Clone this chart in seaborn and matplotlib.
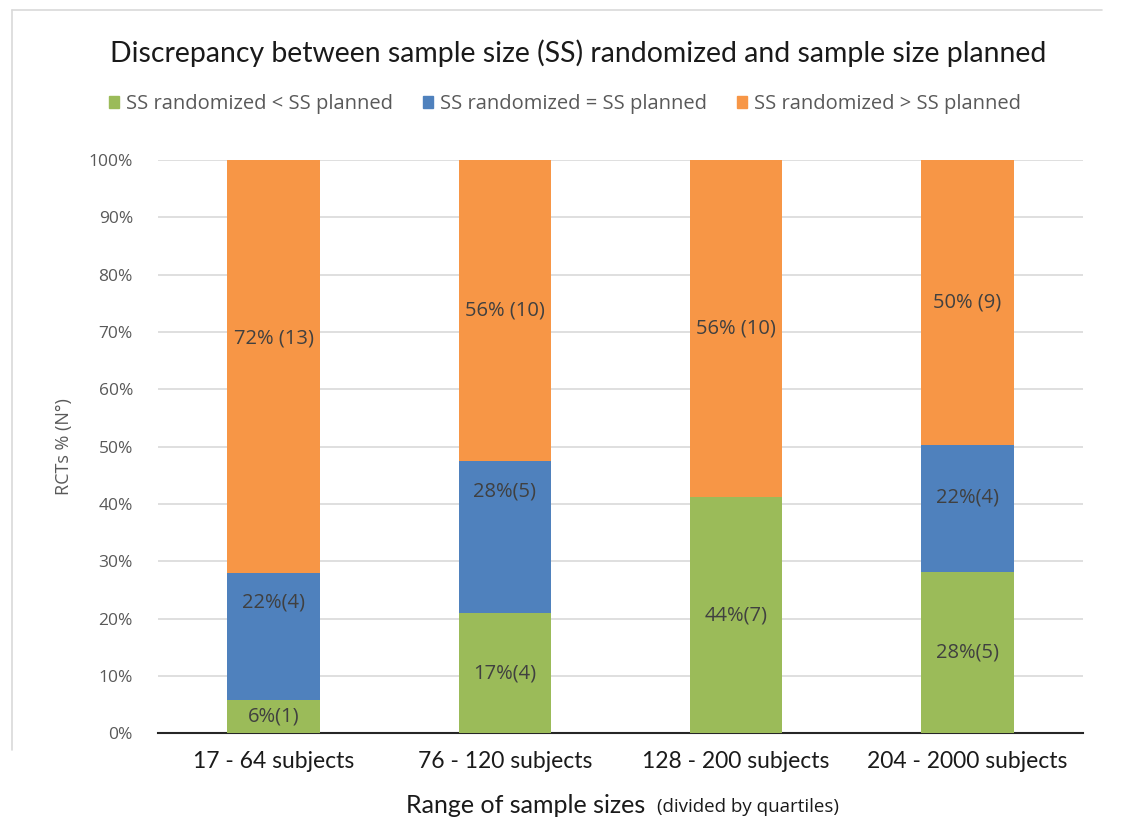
import pandas as pd
import matplotlib.pyplot as plt
import seaborn as sns
import numpy as np

# Données
categories = ['17 - 64 subjects', '76 - 120 subjects', '128 - 200 subjects', '204 - 2000 subjects']
series_names = ['SS randomized < SS planned', 'SS randomized = SS planned', 'SS randomized > SS planned']
ss_lower = [5.8, 20.9, 41.2, 28.1]     # vert
ss_equal = [22.1, 26.6, 0.0, 22.2]     # bleu
ss_higher = [72.1, 52.5, 58.8, 49.7]   # orange
labels_lower = ['6%(1)', '17%(4)', '44%(7)', '28%(5)']
labels_equal = ['22%(4)', '28%(5)', '', '22%(4)']
labels_higher = ['72% (13)', '56% (10)', '56% (10)', '50% (9)']
yticks = list(range(0, 101, 10))

colors = ['#9BBB59', '#4F81BD', '#F79646']

sns.set_style("white")
plt.rcParams['font.family'] = ['Open Sans', 'DejaVu Sans']

fig = plt.figure(figsize=(11.39, 8.21), dpi=100)
ax = fig.add_axes([0.1387, 0.107, 0.8122, 0.698])

df = pd.DataFrame({'cat': categories,
                   'lower': ss_lower, 'equal': ss_equal, 'higher': ss_higher})
df['c1'] = df['lower']
df['c2'] = df['c1'] + df['equal']
df['c3'] = df['c2'] + df['higher']

# barres empilées : on dessine les cumuls du plus grand au plus petit
for col, color in zip(['c3', 'c2', 'c1'], colors[::-1]):
    sns.barplot(data=df, x='cat', y=col, color=color, width=0.4,
                saturation=1, ax=ax, linewidth=0, zorder=3)

# étiquettes des segments (décalage vertical manuel comme dans l'original)
offsets = {0: [0, 0, 0, 0], 1: [6, 8, 0, 2], 2: [5, 0, 0, 0]}
bottoms = [np.zeros(4), df['c1'].values, df['c2'].values]
heights = [ss_lower, ss_equal, ss_higher]
for k, labs in enumerate([labels_lower, labels_equal, labels_higher]):
    for i, lab in enumerate(labs):
        if not lab:
            continue
        y = bottoms[k][i] + heights[k][i] / 2 + offsets[k][i]
        ax.text(i, y, lab, ha='center', va='center', fontsize=14.5,
                color='#404040', zorder=4)

ax.set_xlim(-0.5, 3.5)
ax.set_ylim(0, 100)
ax.set_yticks(yticks)
ax.set_yticklabels([f'{t}%' for t in yticks])
ax.yaxis.grid(True, color='#D9D9D9', linewidth=1.2, zorder=0)
ax.set_axisbelow(True)
for s in ['top', 'right', 'left']:
    ax.spines[s].set_visible(False)
ax.spines['bottom'].set_color('#262626')
ax.spines['bottom'].set_linewidth(1.5)
ax.tick_params(axis='y', length=0, pad=18, labelsize=12.5, labelcolor='#595959')
ax.tick_params(axis='x', length=0, pad=13)
for t in ax.get_xticklabels():
    t.set_fontfamily('Lato')
    t.set_fontsize(16.5)
    t.set_color('#1a1a1a')
ax.set_xlabel('')
ax.set_ylabel('RCTs % (N°)', fontsize=13, color='#595959', labelpad=11)

# titre
fig.text(0.5 * (113 + 1043) / 1139, 1 - 53 / 821,
         'Discrepancy between sample size (SS) randomized and sample size planned',
         ha='center', va='center', fontsize=20.4, family='Lato', color='#1a1a1a')

# légende
handles = [plt.Rectangle((0, 0), 1, 1, color=c) for c in colors]
fig.legend(handles, series_names, loc='center', ncol=3, frameon=False,
           bbox_to_anchor=(0.5 * (95 + 1035) / 1139, 1 - 104 / 821),
           fontsize=14.5, handlelength=0.5, handleheight=0.5,
           handletextpad=0.35, columnspacing=1.5, labelcolor='#595959')

# titre de l'axe x en deux morceaux
fig.text(645 / 1139, 1 - 805 / 821, 'Range of sample sizes', ha='right',
         va='center', fontsize=18, family='Lato', color='#1a1a1a')
fig.text(657 / 1139, 1 - 807 / 821, '(divided by quartiles)', ha='left',
         va='center', fontsize=13.5, color='#1a1a1a')

# cadre du graphique
fig.add_artist(plt.Line2D([12 / 1139, 1102 / 1139], [1 - 10 / 821, 1 - 10 / 821],
                          color='#D9D9D9', linewidth=1.2))
fig.add_artist(plt.Line2D([12 / 1139, 12 / 1139], [1 - 10 / 821, 1 - 750 / 821],
                          color='#D9D9D9', linewidth=1.2))

plt.savefig('out.png', dpi=100)
plt.close()
